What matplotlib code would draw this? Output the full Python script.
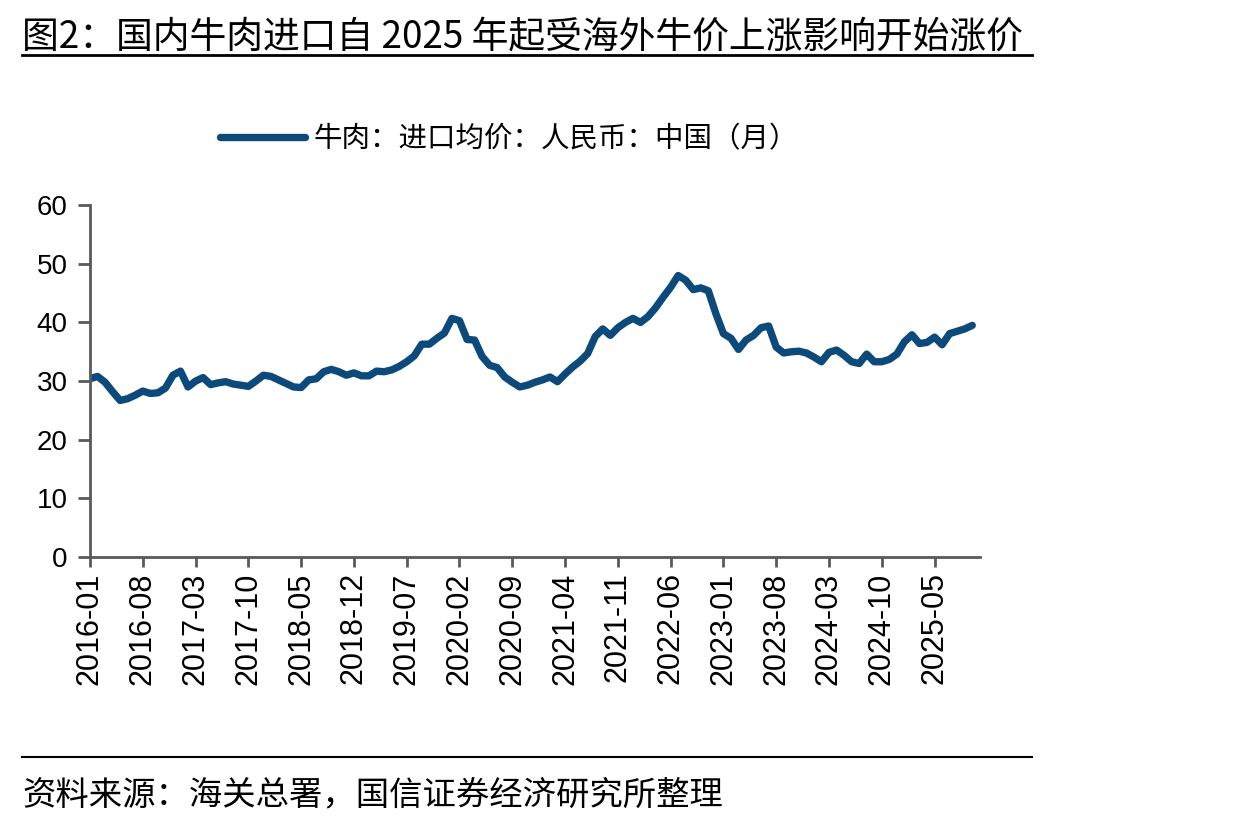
import matplotlib
matplotlib.use("Agg")
import matplotlib.pyplot as plt
import pandas as pd

plt.rcParams['font.family'] = ['Noto Sans CJK SC', 'DejaVu Sans']

title = "图2：国内牛肉进口自 2025 年起受海外牛价上涨影响开始涨价"
source = "资料来源：海关总署，国信证券经济研究所整理"
series_name = "牛肉：进口均价：人民币：中国（月）"

# monthly import price, 2016-01 .. 2025-10
months = pd.date_range("2016-01", periods=118, freq="MS").strftime("%Y-%m").tolist()
price = [30.4, 30.8, 29.8, 28.2, 26.7, 27.0, 27.6, 28.3, 27.9, 28.0,
         28.8, 31.0, 31.7, 29.0, 30.0, 30.6, 29.4, 29.7, 29.9, 29.5,
         29.3, 29.1, 30.0, 31.0, 30.8, 30.2, 29.6, 29.0, 28.9, 30.2,
         30.4, 31.6, 32.0, 31.6, 31.0, 31.4, 30.9, 30.9, 31.7, 31.6,
         31.9, 32.5, 33.3, 34.3, 36.3, 36.3, 37.3, 38.2, 40.7, 40.3,
         37.1, 37.0, 34.2, 32.7, 32.3, 30.7, 29.8, 29.0, 29.3, 29.8,
         30.2, 30.7, 29.9, 31.2, 32.4, 33.4, 34.7, 37.6, 38.9, 37.8,
         39.1, 40.0, 40.7, 40.0, 41.0, 42.5, 44.3, 46.0, 48.0, 47.2,
         45.6, 45.9, 45.4, 41.5, 38.1, 37.3, 35.4, 37.0, 37.8, 39.1,
         39.4, 35.8, 34.8, 35.0, 35.1, 34.8, 34.1, 33.3, 34.9, 35.3,
         34.4, 33.3, 33.0, 34.6, 33.3, 33.3, 33.7, 34.6, 36.7, 37.9,
         36.4, 36.6, 37.5, 36.2, 38.1, 38.5, 38.9, 39.5]
yticks = [0, 10, 20, 30, 40, 50, 60]

fig = plt.figure(figsize=(12.48, 8.24), dpi=100)
ax = fig.add_axes([0.0721, 0.324, 0.713, 0.427])

x = list(range(len(months)))
line_color = '#0d4a7c'
ax.plot(x, price, color=line_color, lw=5.3, solid_capstyle='round', solid_joinstyle='round')

ax.set_xlim(0, 118)
ax.set_ylim(0, 60)
ax.set_yticks(yticks)
ax.set_xticks(x[::7])
ax.set_xticklabels(months[::7], rotation=90, family='Liberation Sans', fontsize=22)
for lab in ax.get_yticklabels():
    lab.set_family('Liberation Sans')
    lab.set_fontsize(20)

for s in ['top', 'right']:
    ax.spines[s].set_visible(False)
for s in ['left', 'bottom']:
    ax.spines[s].set_color('#5a5a5a')
    ax.spines[s].set_linewidth(2)
ax.tick_params(axis='x', direction='out', color='#5a5a5a', width=2, length=7, pad=4)
ax.tick_params(axis='y', direction='out', color='#5a5a5a', width=2, length=9, pad=7)

# legend on top
fig.legend([plt.Line2D([], [], color=line_color, lw=5.3, solid_capstyle='round')],
           [series_name], loc='center', bbox_to_anchor=(0.408, 0.831),
           frameon=False, fontsize=20.5, handlelength=3.0, handletextpad=0.3)

fig.text(0.018, 0.978, title, fontsize=26.5, va='top', ha='left')
fig.add_artist(plt.Line2D([0.018, 0.827], [0.933, 0.933], color='black', lw=2))
fig.add_artist(plt.Line2D([0.018, 0.827], [0.081, 0.081], color='black', lw=1.5))
fig.text(0.018, 0.035, source, fontsize=24, va='center', ha='left')

fig.savefig("out.png", dpi=100)
